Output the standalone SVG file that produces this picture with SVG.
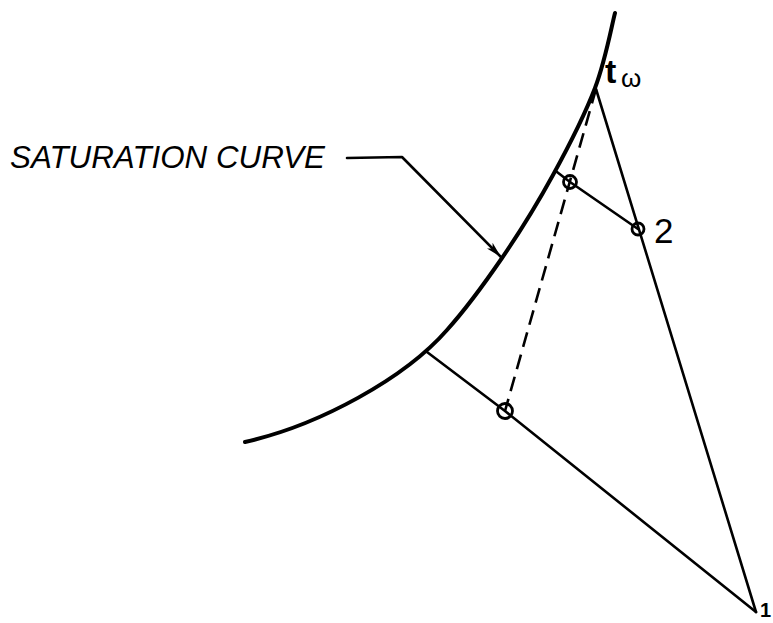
<svg xmlns="http://www.w3.org/2000/svg" width="773" height="623" viewBox="0 0 773 623">
<style>
.ln{fill:none;stroke:#000;stroke-width:2.6;stroke-linecap:round;stroke-linejoin:round}
.curve{fill:none;stroke:#000;stroke-width:4;stroke-linecap:round}
.dash{fill:none;stroke:#000;stroke-width:2.6;stroke-dasharray:15 8}
.pt{fill:none;stroke:#000;stroke-width:2.8}
.lbl{font-family:"Liberation Sans",Arial,sans-serif;font-style:italic;fill:#000}
.up{font-family:"Liberation Sans",Arial,sans-serif;font-style:normal;fill:#000}
</style>
<defs>
<marker id="ah" markerWidth="18" markerHeight="10" refX="16" refY="5" orient="auto" markerUnits="userSpaceOnUse">
<path d="M0,1 L16,5 L0,9 L4,5 Z" fill="#000"/>
</marker>
</defs>
<rect width="773" height="623" fill="#fff"/>
<g id="saturation-curve">
<path class="curve" d="M615,13 C611.7,25.5 605.3,61 595,88 C584.7,115 568.5,146.7 553,175 C537.5,203.3 519.7,232.2 502,258 C484.3,283.8 465.2,309.7 447,330 C405,378 320,425 245,442"/>
</g>
<g id="connectors">
<polyline class="ln" points="347,158 402,157 501,257" marker-end="url(#ah)"/>
<line class="ln" x1="596" y1="89" x2="756" y2="612"/>
<polyline class="ln" points="427,352 505,411 756,612"/>
<polyline class="ln" points="557,172 570,182 638,229"/>
<line class="dash" x1="596" y1="89" x2="505" y2="411"/>
</g>
<g id="node-tw">
<text class="up" x="605" y="83" font-size="34" font-weight="bold">t</text>
<text class="up" x="621" y="87" font-size="26">ω</text>
</g>
<g id="node-upper"><circle class="pt" cx="570" cy="182" r="6.5"/></g>
<g id="node-2">
<circle class="pt" cx="638" cy="229" r="6"/>
<text class="up" x="654" y="243" font-size="35">2</text>
</g>
<g id="node-lower"><circle class="pt" cx="505" cy="411" r="7.5"/></g>
<g id="node-1"><text class="up" x="760" y="617" font-size="20" font-weight="bold">1</text></g>
<g id="label-saturation">
<text class="lbl" x="10" y="168" font-size="31" textLength="315" lengthAdjust="spacingAndGlyphs">SATURATION CURVE</text>
</g>
</svg>
